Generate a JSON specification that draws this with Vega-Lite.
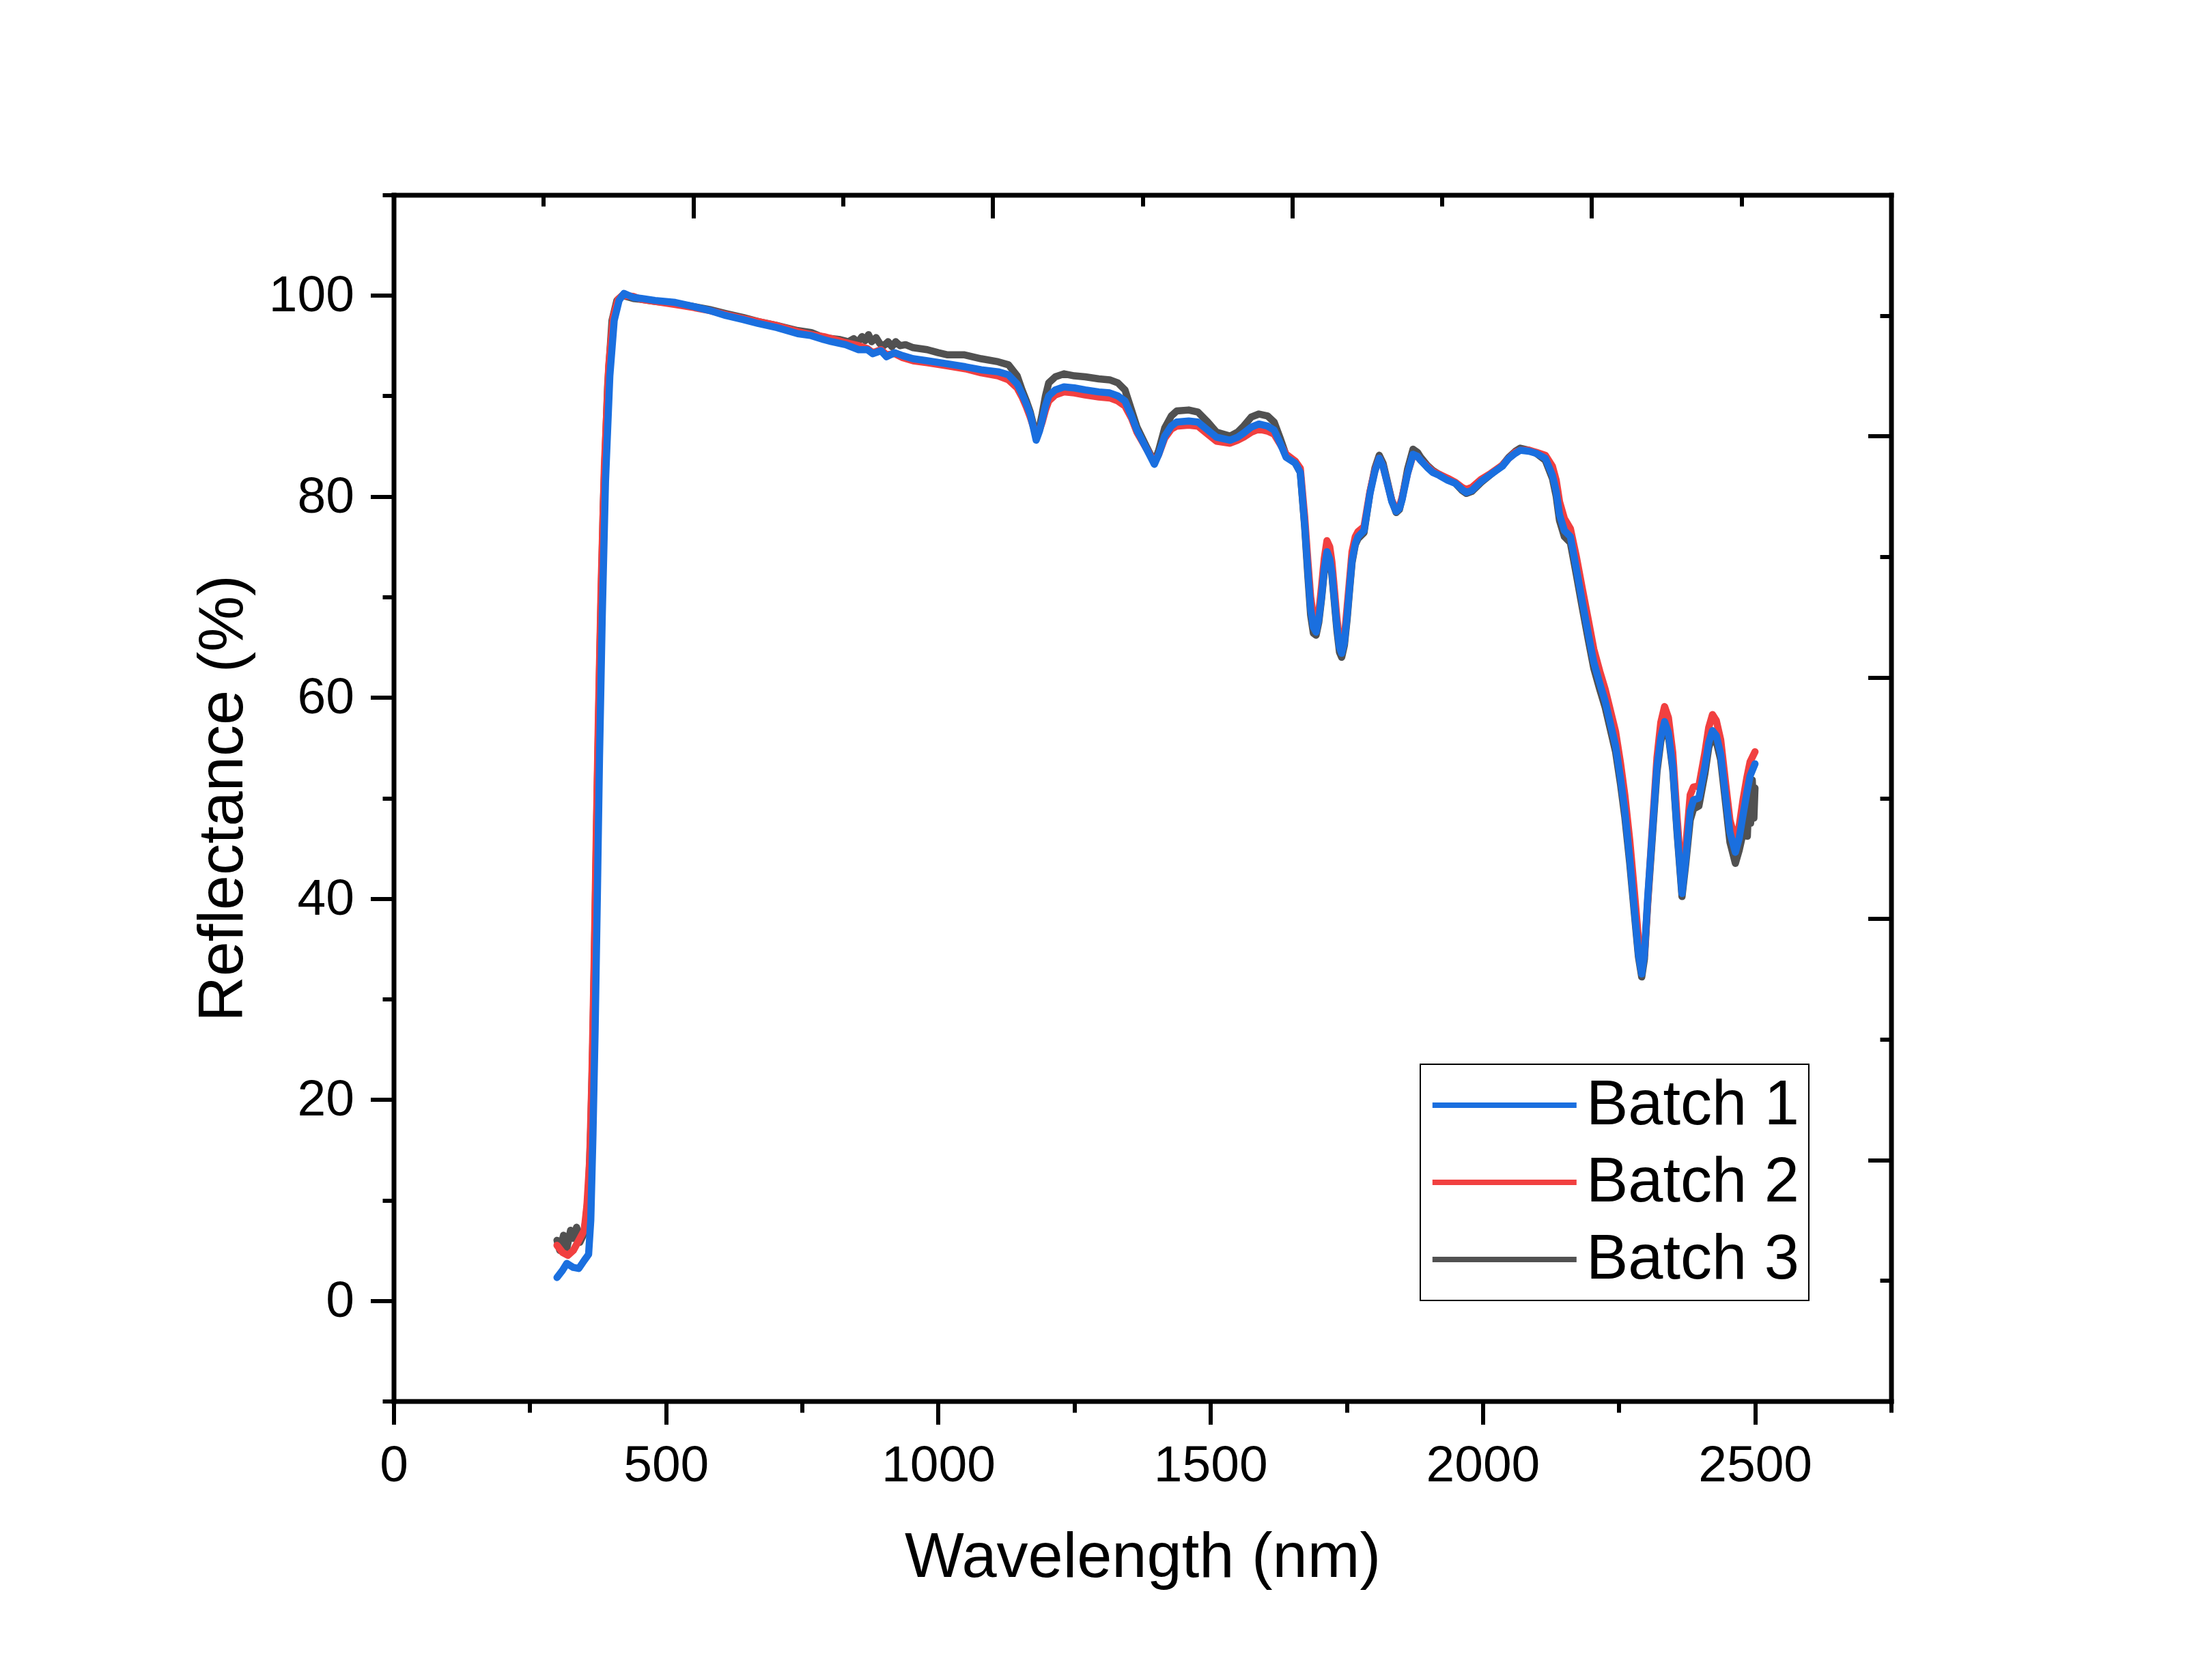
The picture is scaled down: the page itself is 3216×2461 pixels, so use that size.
{
  "$schema": "https://vega.github.io/schema/vega-lite/v6.json",
  "width": 2193,
  "height": 1767,
  "autosize": "none",
  "padding": {"left": 576.5, "top": 285.5, "right": 446.5, "bottom": 408.5},
  "background": "#ffffff",
  "view": {"stroke": null},
  "config": {
    "font": "Liberation Sans",
    "axis": {
      "grid": false,
      "labelFont": "Liberation Sans",
      "labelFontSize": 75,
      "labelColor": "#000000",
      "labelPadding": 24,
      "labelLimit": 0,
      "labelFlush": false,
      "labelOverlap": false,
      "format": "d",
      "titleFont": "Liberation Sans",
      "titleFontSize": 92,
      "titleFontWeight": "normal",
      "titleColor": "#000000",
      "tickColor": "#000000",
      "tickWidth": 6,
      "domainColor": "#000000",
      "domainWidth": 7,
      "domainCap": "square"
    }
  },
  "datasets": {
    "b1": [
      {"wl":300,"r":2.3},{"wl":310,"r":3.0},{"wl":318,"r":3.7},{"wl":330,"r":3.3},{"wl":340,"r":3.2},{"wl":350,"r":4.0},{"wl":358,"r":4.6},{"wl":362,"r":8.0},{"wl":366,"r":16.5},{"wl":370,"r":27},{"wl":374,"r":40},{"wl":378,"r":54},{"wl":383,"r":68},{"wl":389,"r":81.5},{"wl":397,"r":92},{"wl":405,"r":97.5},{"wl":414,"r":99.5},{"wl":423,"r":100.2},{"wl":440,"r":99.8},{"wl":455,"r":99.7},{"wl":480,"r":99.5},{"wl":517,"r":99.3},{"wl":550,"r":98.9},{"wl":580,"r":98.5},{"wl":610,"r":98.0},{"wl":642,"r":97.6},{"wl":670,"r":97.2},{"wl":704,"r":96.8},{"wl":742,"r":96.2},{"wl":767,"r":96.0},{"wl":790,"r":95.6},{"wl":804,"r":95.4},{"wl":830,"r":95.1},{"wl":854,"r":94.6},{"wl":870,"r":94.6},{"wl":880,"r":94.2},{"wl":895,"r":94.5},{"wl":905,"r":93.9},{"wl":920,"r":94.3},{"wl":935,"r":94.0},{"wl":954,"r":93.7},{"wl":980,"r":93.5},{"wl":1016,"r":93.2},{"wl":1050,"r":92.9},{"wl":1079,"r":92.6},{"wl":1110,"r":92.4},{"wl":1129,"r":92.1},{"wl":1145,"r":91.2},{"wl":1154,"r":90.2},{"wl":1162,"r":89.2},{"wl":1169,"r":88.2},{"wl":1175,"r":86.8},{"wl":1180,"r":85.6},{"wl":1186,"r":86.5},{"wl":1191,"r":87.6},{"wl":1197,"r":89.0},{"wl":1203,"r":90.0},{"wl":1215,"r":90.6},{"wl":1231,"r":90.9},{"wl":1250,"r":90.8},{"wl":1270,"r":90.6},{"wl":1295,"r":90.4},{"wl":1315,"r":90.3},{"wl":1330,"r":90.0},{"wl":1343,"r":89.5},{"wl":1355,"r":88.0},{"wl":1365,"r":86.6},{"wl":1382,"r":84.8},{"wl":1397,"r":83.2},{"wl":1405,"r":84.2},{"wl":1416,"r":86.0},{"wl":1428,"r":87.0},{"wl":1438,"r":87.4},{"wl":1460,"r":87.5},{"wl":1477,"r":87.4},{"wl":1495,"r":86.6},{"wl":1511,"r":85.9},{"wl":1536,"r":85.6},{"wl":1550,"r":85.9},{"wl":1561,"r":86.3},{"wl":1575,"r":86.9},{"wl":1589,"r":87.2},{"wl":1605,"r":87.0},{"wl":1617,"r":86.6},{"wl":1628,"r":85.3},{"wl":1639,"r":83.9},{"wl":1656,"r":83.3},{"wl":1665,"r":82.4},{"wl":1673,"r":77.2},{"wl":1679,"r":72.5},{"wl":1684,"r":68.8},{"wl":1689,"r":67.0},{"wl":1694,"r":66.5},{"wl":1699,"r":67.8},{"wl":1704,"r":70.0},{"wl":1709,"r":72.8},{"wl":1714,"r":74.5},{"wl":1719,"r":73.8},{"wl":1723,"r":72.4},{"wl":1728,"r":69.5},{"wl":1732,"r":67.2},{"wl":1737,"r":65.0},{"wl":1741,"r":64.4},{"wl":1746,"r":65.5},{"wl":1751,"r":68.1},{"wl":1756,"r":71.2},{"wl":1760,"r":73.6},{"wl":1766,"r":75.3},{"wl":1771,"r":76.0},{"wl":1782,"r":76.6},{"wl":1793,"r":80.3},{"wl":1802,"r":82.5},{"wl":1810,"r":83.8},{"wl":1817,"r":83.0},{"wl":1824,"r":81.5},{"wl":1833,"r":79.5},{"wl":1841,"r":78.5},{"wl":1847,"r":78.8},{"wl":1852,"r":79.7},{"wl":1862,"r":82.3},{"wl":1872,"r":84.2},{"wl":1880,"r":84.0},{"wl":1886,"r":83.6},{"wl":1898,"r":82.9},{"wl":1908,"r":82.4},{"wl":1920,"r":82.1},{"wl":1936,"r":81.6},{"wl":1950,"r":81.3},{"wl":1962,"r":80.7},{"wl":1970,"r":80.4},{"wl":1980,"r":80.6},{"wl":1997,"r":81.5},{"wl":2015,"r":82.2},{"wl":2036,"r":83.0},{"wl":2048,"r":83.8},{"wl":2060,"r":84.3},{"wl":2069,"r":84.6},{"wl":2085,"r":84.5},{"wl":2098,"r":84.3},{"wl":2115,"r":83.8},{"wl":2128,"r":82.1},{"wl":2135,"r":80.5},{"wl":2141,"r":78.2},{"wl":2150,"r":76.6},{"wl":2161,"r":76.0},{"wl":2172,"r":72.8},{"wl":2183,"r":69.5},{"wl":2194,"r":66.3},{"wl":2204,"r":63.5},{"wl":2215,"r":61.4},{"wl":2225,"r":59.6},{"wl":2244,"r":55.2},{"wl":2253,"r":52.0},{"wl":2261,"r":48.7},{"wl":2270,"r":44.0},{"wl":2278,"r":39.2},{"wl":2286,"r":34.5},{"wl":2292,"r":32.5},{"wl":2297,"r":34.5},{"wl":2303,"r":40.1},{"wl":2312,"r":47.0},{"wl":2320,"r":53.1},{"wl":2327,"r":56.0},{"wl":2334,"r":57.6},{"wl":2341,"r":56.5},{"wl":2349,"r":53.1},{"wl":2357,"r":46.8},{"wl":2366,"r":40.5},{"wl":2373,"r":44.0},{"wl":2381,"r":48.7},{"wl":2387,"r":49.8},{"wl":2397,"r":50.0},{"wl":2408,"r":53.1},{"wl":2415,"r":55.5},{"wl":2422,"r":56.7},{"wl":2429,"r":56.2},{"wl":2437,"r":54.4},{"wl":2446,"r":50.2},{"wl":2454,"r":46.6},{"wl":2464,"r":44.6},{"wl":2471,"r":46.0},{"wl":2478,"r":48.3},{"wl":2485,"r":50.5},{"wl":2491,"r":52.2},{"wl":2500,"r":53.4}
    ],
    "b2": [
      {"wl":300,"r":5.5},{"wl":310,"r":4.8},{"wl":320,"r":4.5},{"wl":330,"r":5.0},{"wl":340,"r":6.0},{"wl":350,"r":7.0},{"wl":355,"r":9.5},{"wl":360,"r":14},{"wl":364,"r":22},{"wl":368,"r":33},{"wl":372,"r":46},{"wl":376,"r":58},{"wl":381,"r":71},{"wl":387,"r":83},{"wl":395,"r":93},{"wl":403,"r":97.8},{"wl":412,"r":99.6},{"wl":420,"r":100.0},{"wl":440,"r":99.9},{"wl":455,"r":99.6},{"wl":480,"r":99.4},{"wl":517,"r":99.1},{"wl":550,"r":98.8},{"wl":580,"r":98.5},{"wl":610,"r":98.1},{"wl":642,"r":97.7},{"wl":670,"r":97.4},{"wl":704,"r":97.0},{"wl":742,"r":96.4},{"wl":767,"r":96.1},{"wl":790,"r":95.9},{"wl":804,"r":95.7},{"wl":830,"r":95.3},{"wl":854,"r":95.0},{"wl":870,"r":94.7},{"wl":880,"r":94.3},{"wl":895,"r":94.6},{"wl":905,"r":94.1},{"wl":920,"r":94.2},{"wl":935,"r":93.8},{"wl":954,"r":93.5},{"wl":980,"r":93.3},{"wl":1016,"r":93.0},{"wl":1050,"r":92.7},{"wl":1079,"r":92.3},{"wl":1110,"r":92.0},{"wl":1129,"r":91.6},{"wl":1145,"r":90.8},{"wl":1154,"r":89.9},{"wl":1162,"r":88.9},{"wl":1169,"r":87.9},{"wl":1175,"r":86.9},{"wl":1180,"r":86.0},{"wl":1186,"r":86.6},{"wl":1191,"r":87.4},{"wl":1197,"r":88.6},{"wl":1203,"r":89.5},{"wl":1215,"r":90.1},{"wl":1231,"r":90.4},{"wl":1250,"r":90.3},{"wl":1270,"r":90.1},{"wl":1295,"r":89.9},{"wl":1315,"r":89.8},{"wl":1330,"r":89.5},{"wl":1343,"r":89.0},{"wl":1355,"r":87.8},{"wl":1365,"r":86.4},{"wl":1382,"r":84.8},{"wl":1397,"r":83.4},{"wl":1405,"r":84.2},{"wl":1416,"r":85.8},{"wl":1428,"r":86.7},{"wl":1438,"r":87.0},{"wl":1460,"r":87.1},{"wl":1477,"r":87.0},{"wl":1495,"r":86.2},{"wl":1511,"r":85.5},{"wl":1536,"r":85.3},{"wl":1550,"r":85.6},{"wl":1561,"r":85.9},{"wl":1575,"r":86.4},{"wl":1589,"r":86.7},{"wl":1605,"r":86.5},{"wl":1617,"r":86.2},{"wl":1628,"r":85.2},{"wl":1639,"r":84.2},{"wl":1656,"r":83.5},{"wl":1665,"r":82.8},{"wl":1673,"r":78.0},{"wl":1679,"r":73.5},{"wl":1684,"r":70.0},{"wl":1689,"r":68.0},{"wl":1694,"r":67.3},{"wl":1699,"r":68.5},{"wl":1704,"r":71.0},{"wl":1709,"r":73.8},{"wl":1714,"r":75.6},{"wl":1719,"r":75.0},{"wl":1723,"r":73.5},{"wl":1728,"r":70.5},{"wl":1732,"r":68.0},{"wl":1737,"r":65.5},{"wl":1741,"r":64.8},{"wl":1746,"r":66.0},{"wl":1751,"r":69.0},{"wl":1756,"r":72.0},{"wl":1760,"r":74.5},{"wl":1766,"r":76.0},{"wl":1771,"r":76.5},{"wl":1782,"r":77.0},{"wl":1793,"r":80.5},{"wl":1802,"r":82.6},{"wl":1810,"r":83.8},{"wl":1817,"r":83.0},{"wl":1824,"r":81.5},{"wl":1833,"r":79.6},{"wl":1841,"r":78.7},{"wl":1847,"r":79.0},{"wl":1852,"r":79.9},{"wl":1862,"r":82.3},{"wl":1872,"r":84.1},{"wl":1880,"r":84.0},{"wl":1886,"r":83.6},{"wl":1898,"r":83.0},{"wl":1908,"r":82.5},{"wl":1920,"r":82.2},{"wl":1936,"r":81.8},{"wl":1950,"r":81.4},{"wl":1962,"r":80.9},{"wl":1970,"r":80.7},{"wl":1980,"r":80.9},{"wl":1997,"r":81.7},{"wl":2015,"r":82.3},{"wl":2036,"r":83.1},{"wl":2048,"r":83.8},{"wl":2060,"r":84.4},{"wl":2069,"r":84.6},{"wl":2085,"r":84.6},{"wl":2098,"r":84.4},{"wl":2115,"r":84.1},{"wl":2128,"r":83.0},{"wl":2135,"r":81.6},{"wl":2141,"r":79.5},{"wl":2150,"r":77.8},{"wl":2161,"r":76.8},{"wl":2172,"r":74.0},{"wl":2183,"r":70.8},{"wl":2194,"r":67.7},{"wl":2204,"r":64.8},{"wl":2215,"r":62.6},{"wl":2225,"r":60.8},{"wl":2244,"r":56.6},{"wl":2253,"r":53.5},{"wl":2261,"r":50.3},{"wl":2270,"r":45.8},{"wl":2278,"r":41.0},{"wl":2286,"r":36.0},{"wl":2292,"r":33.3},{"wl":2297,"r":34.5},{"wl":2303,"r":39.8},{"wl":2312,"r":47.5},{"wl":2320,"r":54.0},{"wl":2327,"r":57.5},{"wl":2334,"r":59.1},{"wl":2341,"r":58.0},{"wl":2349,"r":54.5},{"wl":2357,"r":48.0},{"wl":2366,"r":41.5},{"wl":2373,"r":45.2},{"wl":2381,"r":50.3},{"wl":2387,"r":51.1},{"wl":2397,"r":51.2},{"wl":2408,"r":54.5},{"wl":2415,"r":57.0},{"wl":2422,"r":58.3},{"wl":2429,"r":57.7},{"wl":2437,"r":55.8},{"wl":2446,"r":51.5},{"wl":2454,"r":47.8},{"wl":2464,"r":45.8},{"wl":2471,"r":47.2},{"wl":2478,"r":49.8},{"wl":2485,"r":52.0},{"wl":2491,"r":53.6},{"wl":2500,"r":54.6}
    ],
    "b3": [
      {"wl":300,"r":6.0},{"wl":305,"r":5.0},{"wl":312,"r":6.5},{"wl":318,"r":5.2},{"wl":325,"r":7.0},{"wl":330,"r":6.2},{"wl":336,"r":7.3},{"wl":342,"r":5.8},{"wl":348,"r":6.5},{"wl":353,"r":8.0},{"wl":358,"r":11},{"wl":362,"r":17},{"wl":366,"r":26},{"wl":370,"r":38},{"wl":374,"r":51},{"wl":379,"r":65},{"wl":385,"r":79},{"wl":393,"r":91},{"wl":401,"r":97.5},{"wl":410,"r":99.5},{"wl":420,"r":100.0},{"wl":440,"r":99.7},{"wl":455,"r":99.6},{"wl":480,"r":99.4},{"wl":517,"r":99.2},{"wl":550,"r":98.9},{"wl":580,"r":98.6},{"wl":610,"r":98.2},{"wl":642,"r":97.8},{"wl":670,"r":97.4},{"wl":704,"r":97.0},{"wl":742,"r":96.5},{"wl":767,"r":96.3},{"wl":790,"r":95.8},{"wl":804,"r":95.7},{"wl":820,"r":95.6},{"wl":835,"r":95.4},{"wl":845,"r":95.7},{"wl":852,"r":95.3},{"wl":860,"r":95.9},{"wl":866,"r":95.5},{"wl":872,"r":96.1},{"wl":878,"r":95.4},{"wl":886,"r":95.8},{"wl":893,"r":95.2},{"wl":900,"r":95.0},{"wl":908,"r":95.4},{"wl":915,"r":94.9},{"wl":922,"r":95.4},{"wl":930,"r":95.0},{"wl":940,"r":95.1},{"wl":954,"r":94.8},{"wl":980,"r":94.6},{"wl":1000,"r":94.3},{"wl":1016,"r":94.1},{"wl":1047,"r":94.1},{"wl":1079,"r":93.7},{"wl":1110,"r":93.4},{"wl":1129,"r":93.1},{"wl":1145,"r":92.0},{"wl":1154,"r":90.6},{"wl":1162,"r":89.5},{"wl":1169,"r":88.4},{"wl":1175,"r":87.1},{"wl":1180,"r":85.9},{"wl":1186,"r":86.9},{"wl":1191,"r":88.2},{"wl":1197,"r":90.0},{"wl":1203,"r":91.3},{"wl":1215,"r":91.9},{"wl":1231,"r":92.2},{"wl":1250,"r":92.0},{"wl":1270,"r":91.9},{"wl":1295,"r":91.7},{"wl":1315,"r":91.6},{"wl":1330,"r":91.3},{"wl":1343,"r":90.6},{"wl":1355,"r":88.6},{"wl":1365,"r":86.9},{"wl":1382,"r":85.0},{"wl":1397,"r":83.4},{"wl":1405,"r":84.6},{"wl":1416,"r":86.8},{"wl":1428,"r":88.0},{"wl":1438,"r":88.5},{"wl":1460,"r":88.6},{"wl":1477,"r":88.4},{"wl":1495,"r":87.4},{"wl":1511,"r":86.4},{"wl":1536,"r":86.0},{"wl":1550,"r":86.4},{"wl":1561,"r":87.0},{"wl":1575,"r":87.9},{"wl":1589,"r":88.2},{"wl":1605,"r":88.0},{"wl":1617,"r":87.4},{"wl":1628,"r":85.8},{"wl":1639,"r":84.1},{"wl":1656,"r":83.3},{"wl":1665,"r":82.4},{"wl":1673,"r":77.0},{"wl":1679,"r":72.0},{"wl":1684,"r":68.2},{"wl":1689,"r":66.4},{"wl":1694,"r":66.2},{"wl":1699,"r":67.5},{"wl":1704,"r":69.8},{"wl":1709,"r":72.5},{"wl":1714,"r":74.3},{"wl":1719,"r":73.6},{"wl":1723,"r":72.2},{"wl":1728,"r":69.2},{"wl":1732,"r":66.8},{"wl":1737,"r":64.5},{"wl":1741,"r":64.0},{"wl":1746,"r":65.2},{"wl":1751,"r":67.8},{"wl":1756,"r":71.0},{"wl":1760,"r":73.4},{"wl":1766,"r":75.2},{"wl":1771,"r":75.8},{"wl":1782,"r":76.4},{"wl":1793,"r":80.4},{"wl":1802,"r":82.8},{"wl":1810,"r":84.1},{"wl":1817,"r":83.3},{"wl":1824,"r":81.7},{"wl":1833,"r":79.6},{"wl":1841,"r":78.4},{"wl":1847,"r":78.7},{"wl":1852,"r":79.8},{"wl":1862,"r":82.7},{"wl":1872,"r":84.7},{"wl":1880,"r":84.4},{"wl":1886,"r":83.9},{"wl":1898,"r":83.1},{"wl":1908,"r":82.6},{"wl":1920,"r":82.2},{"wl":1936,"r":81.7},{"wl":1950,"r":81.3},{"wl":1962,"r":80.6},{"wl":1970,"r":80.3},{"wl":1980,"r":80.5},{"wl":1997,"r":81.4},{"wl":2015,"r":82.2},{"wl":2036,"r":83.1},{"wl":2048,"r":83.9},{"wl":2060,"r":84.5},{"wl":2069,"r":84.8},{"wl":2085,"r":84.6},{"wl":2098,"r":84.3},{"wl":2115,"r":83.6},{"wl":2128,"r":81.8},{"wl":2135,"r":80.0},{"wl":2141,"r":77.6},{"wl":2150,"r":76.0},{"wl":2161,"r":75.4},{"wl":2172,"r":72.2},{"wl":2183,"r":68.9},{"wl":2194,"r":65.7},{"wl":2204,"r":62.9},{"wl":2215,"r":60.8},{"wl":2225,"r":59.0},{"wl":2244,"r":54.6},{"wl":2253,"r":51.4},{"wl":2261,"r":48.1},{"wl":2270,"r":43.5},{"wl":2278,"r":38.8},{"wl":2286,"r":34.2},{"wl":2292,"r":32.2},{"wl":2297,"r":34.0},{"wl":2303,"r":39.5},{"wl":2312,"r":46.5},{"wl":2320,"r":52.6},{"wl":2327,"r":55.6},{"wl":2334,"r":57.2},{"wl":2341,"r":56.2},{"wl":2349,"r":52.8},{"wl":2357,"r":46.5},{"wl":2366,"r":40.2},{"wl":2373,"r":43.5},{"wl":2381,"r":47.8},{"wl":2387,"r":48.9},{"wl":2397,"r":49.2},{"wl":2408,"r":52.4},{"wl":2415,"r":55.0},{"wl":2422,"r":56.2},{"wl":2429,"r":55.6},{"wl":2437,"r":53.8},{"wl":2446,"r":49.5},{"wl":2454,"r":45.6},{"wl":2464,"r":43.5},{"wl":2471,"r":44.8},{"wl":2478,"r":46.5},{"wl":2483,"r":48.5},{"wl":2486,"r":46.2},{"wl":2489,"r":50.5},{"wl":2492,"r":47.5},{"wl":2495,"r":51.8},{"wl":2498,"r":48.0},{"wl":2500,"r":51.0}
    ],
    "anchor": [{"a": 0}]
  },
  "layer": [
    {
      "encoding": {
        "x": {
          "field": "wl",
          "type": "quantitative",
          "scale": {"domain": [0, 2750], "nice": false, "zero": false},
          "axis": {"orient": "bottom", "values": [0, 500, 1000, 1500, 2000, 2500], "tickSize": 34, "title": "Wavelength (nm)", "titlePadding": 52}
        },
        "y": {
          "field": "r",
          "type": "quantitative",
          "scale": {"domain": [-10, 110], "nice": false, "zero": false},
          "axis": {"orient": "left", "values": [0, 20, 40, 60, 80, 100], "tickSize": 34, "title": "Reflectance (%)", "titlePadding": 20}
        }
      },
      "layer": [
        {
          "data": {"name": "b3"},
          "mark": {"type": "line", "strokeWidth": 10.5, "strokeJoin": "round", "strokeCap": "round"},
          "encoding": {"color": {"datum": "Batch 3", "type": "nominal", "scale": {"domain": ["Batch 1", "Batch 2", "Batch 3"], "range": ["#1A6FDF", "#F14040", "#515151"]}}}
        },
        {
          "data": {"name": "b2"},
          "mark": {"type": "line", "strokeWidth": 10.5, "strokeJoin": "round", "strokeCap": "round"},
          "encoding": {"color": {"datum": "Batch 2", "type": "nominal"}}
        },
        {
          "data": {"name": "b1"},
          "mark": {"type": "line", "strokeWidth": 10.5, "strokeJoin": "round", "strokeCap": "round"},
          "encoding": {
            "color": {
              "datum": "Batch 1",
              "type": "nominal",
              "legend": {
                "orient": "none",
                "legendX": 1503.5,
                "legendY": 1273.5,
                "title": null,
                "symbolType": "M-2,0H8",
                "symbolSize": 1781,
                "symbolStrokeWidth": 8,
                "labelFont": "Liberation Sans",
                "labelFontSize": 92,
                "labelColor": "#000000",
                "labelLimit": 0,
                "labelOffset": 137,
                "strokeColor": "#000000",
                "fillColor": "#ffffff",
                "padding": 14,
                "rowPadding": 21,
                "encode": {"legend": {"update": {"strokeWidth": {"value": 2}}}}
              }
            }
          }
        }
      ]
    },
    {
      "data": {"name": "anchor"},
      "mark": {"type": "point", "opacity": 0},
      "encoding": {
        "x": {
          "field": "a",
          "type": "quantitative",
          "scale": {"domain": [0, 2750], "nice": false, "zero": false},
          "axis": {"orient": "bottom", "values": [250, 750, 1250, 1750, 2250, 2750], "tickSize": 16.5, "labels": false, "domain": false, "title": null}
        },
        "y": {
          "field": "a",
          "type": "quantitative",
          "scale": {"domain": [-10, 110], "nice": false, "zero": false},
          "axis": {"orient": "left", "values": [-10, 10, 30, 50, 70, 90, 110], "tickSize": 16.5, "labels": false, "domain": false, "title": null}
        }
      }
    },
    {
      "data": {"name": "anchor"},
      "mark": {"type": "point", "opacity": 0},
      "encoding": {
        "x": {
          "field": "a",
          "type": "quantitative",
          "scale": {"domain": [0, 10], "nice": false, "zero": false},
          "axis": {"orient": "top", "values": [0, 2, 4, 6, 8, 10], "tickSize": -34, "labels": false, "title": null}
        },
        "y": {
          "field": "a",
          "type": "quantitative",
          "scale": {"domain": [0, 10], "nice": false, "zero": false},
          "axis": {"orient": "right", "values": [0, 2, 4, 6, 8, 10], "tickSize": -34, "labels": false, "title": null}
        }
      }
    },
    {
      "data": {"name": "anchor"},
      "mark": {"type": "point", "opacity": 0},
      "encoding": {
        "x": {
          "field": "a",
          "type": "quantitative",
          "scale": {"domain": [0, 10], "nice": false, "zero": false},
          "axis": {"orient": "top", "values": [1, 3, 5, 7, 9], "tickSize": -16.5, "labels": false, "domain": false, "title": null}
        },
        "y": {
          "field": "a",
          "type": "quantitative",
          "scale": {"domain": [0, 10], "nice": false, "zero": false},
          "axis": {"orient": "right", "values": [1, 3, 5, 7, 9], "tickSize": -16.5, "labels": false, "domain": false, "title": null}
        }
      }
    }
  ],
  "resolve": {
    "scale": {"x": "independent", "y": "independent"},
    "axis": {"x": "independent", "y": "independent"}
  }
}
